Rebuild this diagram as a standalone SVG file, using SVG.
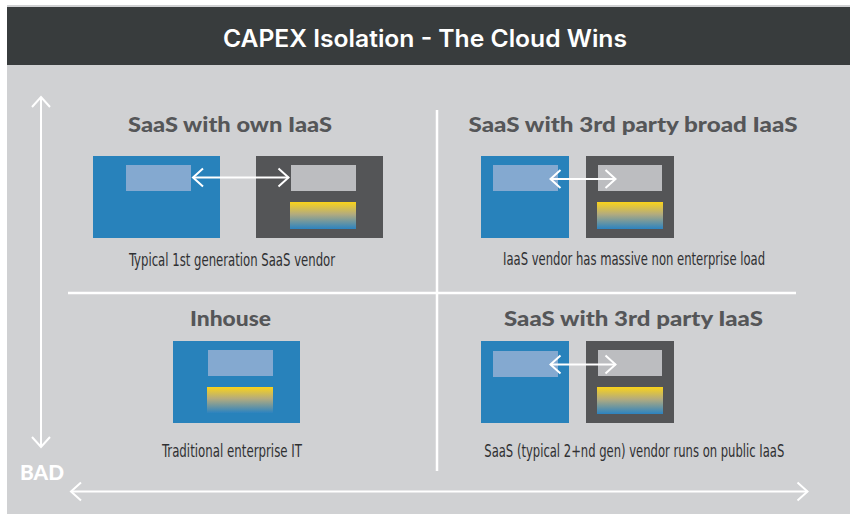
<svg xmlns="http://www.w3.org/2000/svg" width="850" height="514" viewBox="0 0 850 514">
<style>
.title{font-family:"Inter","Open Sans","Liberation Sans",sans-serif;font-weight:600;font-size:24px;fill:#ffffff;text-anchor:middle}
.qt{font-family:"Lato","DejaVu Sans","Liberation Sans",sans-serif;font-weight:900;font-size:20px;fill:#555658;text-anchor:middle}
.cap{font-family:"DejaVu Sans Condensed","Liberation Sans",sans-serif;font-stretch:condensed;font-size:17px;fill:#2f3032;text-anchor:middle}
.bad{font-family:"Lato","DejaVu Sans","Liberation Sans",sans-serif;font-weight:900;font-size:20px;fill:#ffffff}
.blue{fill:#2882bb}
.dark{fill:#545557}
.lblue{fill:#84a9d0}
.lgray{fill:#bcbdc0}
.grad{fill:url(#yb)}
.axis{stroke:#ffffff;stroke-width:2;fill:none}
.div{stroke:#ffffff;stroke-width:2.5;fill:none}
</style>
<defs>
<linearGradient id="yb" x1="0" y1="0" x2="0" y2="1">
<stop offset="0" stop-color="#fad31b"/>
<stop offset="0.45" stop-color="#b3ab7e"/>
<stop offset="1" stop-color="#2c83c0"/>
</linearGradient>
<marker id="chev" markerUnits="userSpaceOnUse" viewBox="-12 -11 14 22" markerWidth="14" markerHeight="22" refX="0" refY="0" orient="auto-start-reverse" overflow="visible">
<path d="M-10,-9 L0,0 L-10,9" fill="none" stroke="#ffffff" stroke-width="2"/>
</marker>
</defs>
<rect x="0" y="0" width="850" height="514" fill="#ffffff"/>
<rect x="7" y="5" width="843" height="509" fill="#d0d1d3"/>
<g id="header">
<rect x="7" y="7" width="843" height="58" fill="#383c3d"/>
<text class="title" x="425" y="47" textLength="404" lengthAdjust="spacingAndGlyphs">CAPEX Isolation - The Cloud Wins</text>
</g>
<g id="bad-label">
<text class="bad" x="20" y="480" textLength="44" lengthAdjust="spacingAndGlyphs">BAD</text>
</g>
<g id="q-saas-own-iaas">
<text class="qt" x="230" y="132" textLength="204" lengthAdjust="spacingAndGlyphs">SaaS with own IaaS</text>
<rect class="blue" x="93" y="156" width="127" height="82"/>
<rect class="lblue" x="126" y="165" width="65" height="26"/>
<rect class="dark" x="256" y="156" width="127" height="82"/>
<rect class="lgray" x="291" y="165" width="65" height="26"/>
<rect class="grad" x="290" y="202" width="66" height="27"/>
<text class="cap" x="232" y="265.5" textLength="206" lengthAdjust="spacingAndGlyphs">Typical 1st generation SaaS vendor</text>
</g>
<g id="q-saas-3rd-broad">
<text class="qt" x="633" y="132" textLength="329" lengthAdjust="spacingAndGlyphs">SaaS with 3rd party broad IaaS</text>
<rect class="blue" x="481" y="156" width="88" height="82"/>
<rect class="lblue" x="493" y="165" width="65" height="26"/>
<rect class="dark" x="586" y="156" width="88" height="82"/>
<rect class="lgray" x="598" y="165" width="64" height="26"/>
<rect class="grad" x="597" y="202" width="66" height="27"/>
<text class="cap" x="634" y="265" textLength="262" lengthAdjust="spacingAndGlyphs">IaaS vendor has massive non enterprise load</text>
</g>
<g id="q-inhouse">
<text class="qt" x="230.5" y="326" textLength="81" lengthAdjust="spacingAndGlyphs">Inhouse</text>
<rect class="blue" x="173" y="341" width="127" height="82"/>
<rect class="lblue" x="208" y="350" width="65" height="26"/>
<rect class="grad" x="207" y="387" width="66" height="26"/>
<text class="cap" x="232" y="456.5" textLength="140" lengthAdjust="spacingAndGlyphs">Traditional enterprise IT</text>
</g>
<g id="q-saas-3rd">
<text class="qt" x="633.5" y="326" textLength="259" lengthAdjust="spacingAndGlyphs">SaaS with 3rd party IaaS</text>
<rect class="blue" x="481" y="341" width="88" height="82"/>
<rect class="lblue" x="493" y="351" width="65" height="26"/>
<rect class="dark" x="586" y="341" width="88" height="82"/>
<rect class="lgray" x="598" y="350" width="64" height="26"/>
<rect class="grad" x="597" y="387" width="66" height="27"/>
<text class="cap" x="634.3" y="456.5" textLength="300" lengthAdjust="spacingAndGlyphs">SaaS (typical 2+nd gen) vendor runs on public IaaS</text>
</g>
<g id="connectors">
<line class="axis" x1="41" y1="97" x2="41" y2="447" marker-start="url(#chev)" marker-end="url(#chev)"/>
<line class="axis" x1="71" y1="491.5" x2="807.5" y2="491.5" marker-start="url(#chev)" marker-end="url(#chev)"/>
<line class="div" x1="437" y1="110" x2="437" y2="471"/>
<line class="div" x1="68" y1="293" x2="796" y2="293"/>
<line class="axis" x1="193" y1="177.5" x2="288.5" y2="177.5" marker-start="url(#chev)" marker-end="url(#chev)"/>
<line class="axis" x1="550.5" y1="179" x2="615.5" y2="179" marker-start="url(#chev)" marker-end="url(#chev)"/>
<line class="axis" x1="550.5" y1="364.5" x2="615.5" y2="364.5" marker-start="url(#chev)" marker-end="url(#chev)"/>
</g>
</svg>
